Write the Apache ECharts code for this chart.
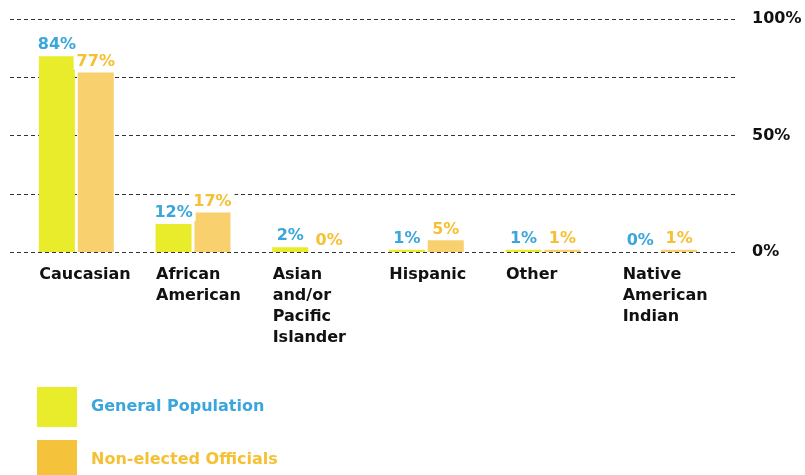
<!DOCTYPE html>
<html><head><meta charset="utf-8">
<script src="https://cdn.jsdelivr.net/npm/echarts@6/dist/echarts.min.js"></script>
<style>html,body{margin:0;padding:0;background:#fff}#c{width:805px;height:475px}</style>
</head><body><div id="c"></div>
<script>
const categories = ['Caucasian', 'African\nAmerican', 'Asian\nand/or\nPacific\nIslander', 'Hispanic', 'Other', 'Native\nAmerican\nIndian'];
const generalPopulation = [84, 12, 2, 1, 1, 0];
const nonElectedOfficials = [77, 17, 0, 5, 1, 1];
const yTickLabels = {0: '0%', 50: '50%', 100: '100%'};

const FONT = 'DejaVu Sans';
const chart = echarts.init(document.getElementById('c'), null, {renderer: 'canvas'});
const legendText = {fontFamily: FONT, fontWeight: 'bold', fontSize: 16, padding: [0, 0, 0, 9]};
chart.setOption({
  animation: false,
  backgroundColor: '#fff',
  grid: [
    {left: 10, right: 68, top: 19, bottom: 223},
    {left: 18, right: 87, top: 19, bottom: 223}
  ],
  xAxis: [
    {gridIndex: 0, type: 'value', min: 0, max: 1, show: false},
    {gridIndex: 1, type: 'category', data: categories,
     axisLine: {show: false}, axisTick: {show: false},
     axisLabel: {interval: 0, hideOverlap: false, color: '#111', fontFamily: FONT, fontWeight: 'bold', fontSize: 16,
       lineHeight: 21, margin: 12, align: 'left', padding: [0, 0, 0, -37], verticalAlign: 'top'}}
  ],
  yAxis: [
    {gridIndex: 0, type: 'value', min: 0, max: 100, interval: 25, position: 'right',
     axisLine: {show: false}, axisTick: {show: false},
     splitLine: {show: true, lineStyle: {color: '#333', type: [4, 3], width: 1}},
     axisLabel: {margin: 15, color: '#111', fontFamily: FONT, fontWeight: 'bold', fontSize: 16,
       formatter: v => yTickLabels[v] || ''}},
    {gridIndex: 1, type: 'value', min: 0, max: 100, show: false, splitLine: {show: false}}
  ],
  legend: [
    {left: 37, top: 387, padding: 0, itemWidth: 40, itemHeight: 40, icon: 'rect', textStyle: legendText,
     data: [{name: 'General Population', itemStyle: {color: '#E8EC2A'}, textStyle: {color: '#3BA6DC'}}]},
    {left: 37, top: 440, padding: 0, itemWidth: 40, itemHeight: 40, icon: 'rect', textStyle: legendText,
     data: [{name: 'Non-elected Officials', itemStyle: {color: '#F5C33B'}, textStyle: {color: '#F5C033'}}]}
  ],
  series: [
    {name: 'General Population', type: 'bar', xAxisIndex: 1, yAxisIndex: 1,
     data: generalPopulation, barWidth: 36, barGap: '8%',
     itemStyle: {color: '#E8EC2A'},
     label: {show: true, position: 'top', distance: 3, formatter: '{c}%', color: '#3BA6DC',
       fontFamily: FONT, fontWeight: 'bold', fontSize: 16, backgroundColor: '#fff', padding: [0, 3]}},
    {name: 'Non-elected Officials', type: 'bar', xAxisIndex: 1, yAxisIndex: 1,
     data: nonElectedOfficials, barWidth: 36,
     itemStyle: {color: '#F8D06E'},
     label: {show: true, position: 'top', distance: 3, formatter: '{c}%', color: '#F5C033',
       fontFamily: FONT, fontWeight: 'bold', fontSize: 16, backgroundColor: '#fff', padding: [0, 3]}}
  ]
});
</script></body></html>
